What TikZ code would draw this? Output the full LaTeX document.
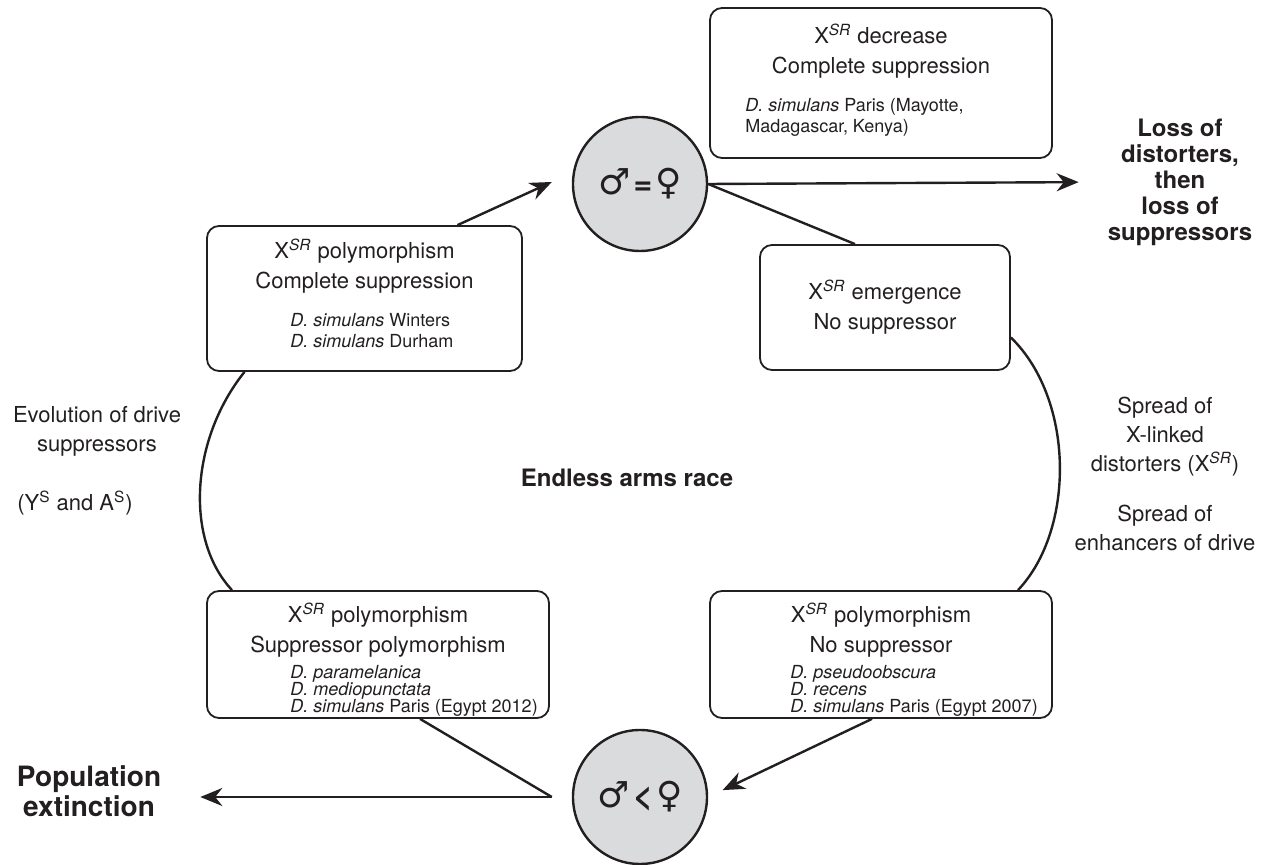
\documentclass[tikz,border=0pt]{standalone}
\usepackage{fontspec}
\setmainfont{TeX Gyre Heros}
\newfontfamily\sexfont{DejaVu Sans}
\usetikzlibrary{arrows.meta,calc,positioning}
\definecolor{ink}{RGB}{35,31,32}
\definecolor{disc}{RGB}{218,219,221}
\newcommand{\xsr}{X\textsuperscript{\itshape SR}}
\newcommand{\sexsym}[1]{{\sexfont\fontsize{18}{18}\selectfont #1}}
\tikzset{
  stagebox/.style={draw, rounded corners=6pt, line width=0.9pt, inner sep=0pt},
  stagetitle/.style={align=center, font=\fontsize{11}{15}\selectfont, inner sep=0pt},
  species/.style={align=left, font=\fontsize{9}{8.6}\selectfont, inner sep=0pt, anchor=north west},
  ratio/.style={draw, circle, fill=disc, minimum size=67pt, line width=1.2pt, inner sep=0pt},
  sidetext/.style={align=center, font=\fontsize{11}{14.5}\selectfont, inner sep=0pt},
  fate/.style={align=center, font=\bfseries\fontsize{12}{13}\selectfont, inner sep=0pt},
}
\begin{document}
\begin{tikzpicture}[>={Stealth[length=11pt,width=9pt]}, line join=round, x=0.5pt, y=-0.5pt, line width=1.2pt, color=ink]
        \useasboundingbox (0,0) rectangle (1266,865);
        % sex ratio discs
        \node[ratio] (even) at (640,184) {\sexsym{♂}\,{\bfseries\fontsize{16}{16}\selectfont =}\,\sexsym{♀}};
        \node[ratio] (biased) at (640,797) {\sexsym{♂}\,{\bfseries\fontsize{17}{17}\selectfont <}\,\sexsym{♀}};
        % stages
        \node[stagebox, minimum width=171pt, minimum height=75pt] (decr) at (881,83) {};
        \node[stagetitle] (decr-t) at ($(decr.north)+(0,44)$) {\xsr{} decrease\\Complete suppression};
        \node[species, font=\fontsize{9}{10.5}\selectfont] (decr-s) at ($(decr.north west)+(35,90)$) {\textit{D. simulans} Paris (Mayotte,\\Madagascar, Kenya)};
        \node[stagebox, minimum width=157.5pt, minimum height=72.5pt] (hold) at (364.5,298.5) {};
        \node[stagetitle] (hold-t) at ($(hold.north)+(0,41)$) {\xsr{} polymorphism\\Complete suppression};
        \node[species, font=\fontsize{9}{10.5}\selectfont] (hold-s) at ($(hold.north west)+(83,87)$) {\textit{D. simulans} Winters\\\textit{D. simulans} Durham};
        \node[stagebox, minimum width=125pt, minimum height=62.5pt] (emerge) at (885,307.5) {};
        \node[stagetitle] (emerge-t) at (emerge) {\xsr{} emergence\\No suppressor};
        \node[stagebox, minimum width=171pt, minimum height=63.5pt] (mixed) at (378,654.5) {};
        \node[stagetitle] (mixed-t) at ($(mixed.north)+(0,40)$) {\xsr{} polymorphism\\Suppressor polymorphism};
        \node[species] (mixed-s) at ($(mixed.north west)+(83,74)$) {\textit{D. paramelanica}\\\textit{D. mediopunctata}\\\textit{D. simulans} Paris (Egypt 2012)};
        \node[stagebox, minimum width=171pt, minimum height=63.5pt] (spread) at (881,654.5) {};
        \node[stagetitle] (spread-t) at ($(spread.north)+(0,40)$) {\xsr{} polymorphism\\No suppressor};
        \node[species] (spread-s) at ($(spread.north west)+(80,74)$) {\textit{D. pseudoobscura}\\\textit{D. recens}\\\textit{D. simulans} Paris (Egypt 2007)};
        % labels
        \node[sidetext] (evol) at (97,431) {Evolution of drive\\suppressors};
        \node[sidetext] (ysas) at (75,503) {(Y\textsuperscript{S} and A\textsuperscript{S})};
        \node[sidetext] (drive) at (1165,437) {Spread of\\X-linked\\distorters (\xsr)};
        \node[sidetext] (enh) at (1165,528) {Spread of\\enhancers of drive};
        \node[font=\bfseries\fontsize{12}{14}\selectfont] (race) at (627,478) {Endless arms race};
        \node[fate] (loss) at (1180,182) {Loss of\\distorters,\\then\\loss of\\suppressors};
        \node[fate, font=\bfseries\fontsize{14}{15}\selectfont] (pop) at (89,791) {Population\\extinction};
        \coordinate (extpt) at ($(biased.west)+(-20,0)$);
        % cycle
        \draw[->] ($(hold.north)+(93,0)$) -- ($(even.west)+(-20,-2)$);
        \draw[->, shorten >=14pt] (even.east) -- (loss.west);
        \draw (even.east) -- ($(emerge.north)+(-30,0)$);
        \draw ($(emerge.east)+(0,30)$) .. controls (1075,400) and (1075,530) .. ($(spread.north)+(137,0)$);
        \draw[->, shorten >=8pt] ($(spread.south)+(-9,0)$) -- (biased.east);
        \draw ($(mixed.south)+(42,0)$) -- (extpt);
        \draw[->, shorten >=19pt] (extpt) -- (extpt -| pop.east);
        \draw ($(hold.south)+(-120,0)$) .. controls (190,440) and (185,540) .. ($(mixed.north)+(-146,0)$);
    \end{tikzpicture}
\end{document}
